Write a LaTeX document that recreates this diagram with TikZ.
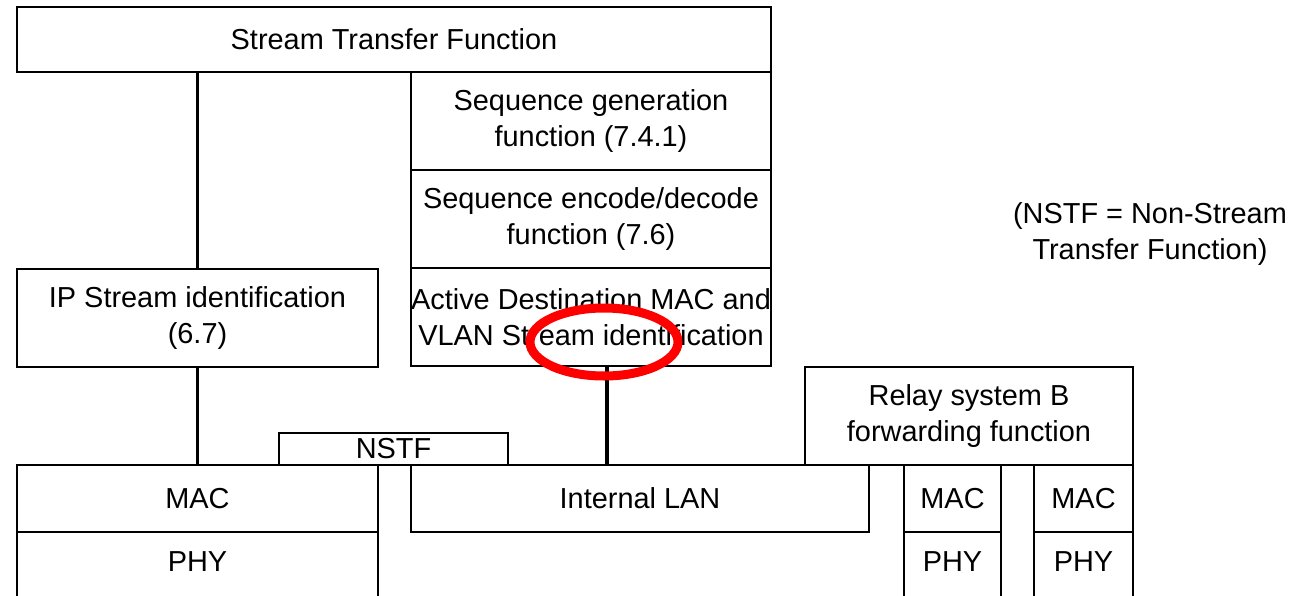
\documentclass[tikz,border=0pt]{standalone}
\usepackage{fontspec}
\setmainfont{Liberation Sans}
\usetikzlibrary{positioning}

\begin{document}
\begin{tikzpicture}[
    x=1pt, y=-1pt,
    node distance=0pt,
    font=\fontsize{28.9}{36}\selectfont,
    box/.style={draw=black, line width=2pt, align=center, inner sep=0pt, outer sep=0pt},
    fn/.style={box, minimum width=360pt, minimum height=98pt},
    phybox/.style={box, minimum height=68pt, text depth=8pt},
    link/.style={line width=3.5pt},
    note/.style={align=center, inner sep=0pt},
    ring/.style={draw=red, line width=9pt},
]
    \useasboundingbox (0,0) rectangle (1292,596);
    \clip (0,0) rectangle (1292,596);

    % Stream transfer function and its stack
    \node[box, minimum width=754pt, minimum height=65pt] (stf) at (394,39.5) {Stream Transfer Function};
    \node[fn, anchor=north east] (seqgen) at (stf.south east) {Sequence generation\\function (7.4.1)};
    \node[fn, below=of seqgen] (seqenc) {Sequence encode/decode\\function (7.6)};
    \node[fn, below=of seqenc] (active) {Active Destination MAC and\\VLAN Stream identification};

    % IP stream identification
    \node[box, minimum width=361pt, minimum height=98pt] (ipsid) at (197.5,318) {IP Stream identification\\(6.7)};

    % Lower layers
    \node[box, minimum width=361pt, minimum height=67pt] (mac1) at (197.5,498.5) {MAC};
    \node[phybox, minimum width=361pt, below=of mac1] (phy1) {PHY};
    \node[box, minimum width=229pt, minimum height=32pt] (nstf) at (393.5,449) {NSTF};
    \node[box, minimum width=458pt, minimum height=67pt] (lan) at (640,498.5) {Internal LAN};

    % Relay system B
    \node[box, minimum width=328pt, minimum height=98pt] (relay) at (969,416) {Relay system B\\forwarding function};
    \node[box, minimum width=97pt, minimum height=67pt] (mac2) at (952.5,498.5) {MAC};
    \node[phybox, minimum width=97pt, below=of mac2] (phy2) {PHY};
    \node[box, minimum width=99pt, minimum height=67pt] (mac3) at (1083.5,498.5) {MAC};
    \node[phybox, minimum width=99pt, below=of mac3] (phy3) {PHY};

    % Legend
    \node[note] (legend) at (1150,234.5) {(NSTF = Non-Stream\\Transfer Function)};

    % Links
    \draw[link] (ipsid.north) -- (ipsid.north |- stf.south);
    \draw[link] (ipsid.south) -- (mac1.north);
    \draw[link] ([xshift=16pt]active.south) -- ([xshift=16pt]active.south |- lan.north);

    % Highlight
    \draw[ring] (604,342) ellipse [x radius=74, y radius=34];
\end{tikzpicture}
\end{document}
